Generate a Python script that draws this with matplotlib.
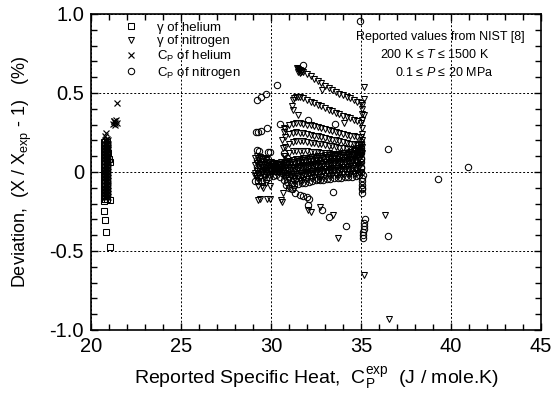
import numpy as np
import matplotlib
matplotlib.use("Agg")
import matplotlib.pyplot as plt
from matplotlib.ticker import MultipleLocator

plt.rcParams['font.family'] = ['Liberation Sans', 'DejaVu Sans']
plt.rcParams['mathtext.fontset'] = 'custom'
plt.rcParams['mathtext.rm'] = 'Liberation Sans'
plt.rcParams['mathtext.it'] = 'Liberation Sans:italic'

# ---------------------------------------------------------------------------
# helium: narrow column near 20.8 J/mole.K
# ---------------------------------------------------------------------------
he_band_y = [-0.17, -0.15, -0.13, -0.11, -0.09, -0.07, -0.05, -0.03, -0.01, 0.01,
             0.03, 0.05, 0.07, 0.09, 0.11, 0.13, 0.15, 0.17, 0.19]
he_sq_cols = [20.72, 20.80, 20.88]
he_x_cols = [20.76, 20.84, 20.93]

# gamma of helium (squares), outliers
gh_x = [20.74, 20.71, 20.78, 20.86, 21.06, 21.06, 21.06, 20.95, 21.0]
gh_y = [-0.181, -0.246, -0.305, -0.379, -0.477, -0.175, 0.063, 0.12, 0.08]

# Cp of helium (crosses), outliers
ch_x = [20.80, 20.90, 20.84, 20.95, 20.85, 21.23, 21.30, 21.35, 21.40, 21.45,
        21.33, 21.28, 21.47]
ch_y = [0.23, 0.21, 0.246, 0.15, 0.20, 0.305, 0.32, 0.31, 0.33, 0.31,
        0.30, 0.325, 0.435]

# ---------------------------------------------------------------------------
# nitrogen: dense band near zero
# ---------------------------------------------------------------------------
band_x = [29.2, 29.4, 29.6, 29.8, 30.0, 30.2, 30.4, 30.6, 30.8, 31.0,
          31.2, 31.4, 31.6, 31.8, 32.0, 32.2, 32.4, 32.6, 32.8, 33.0,
          33.2, 33.4, 33.6, 33.8, 34.0, 34.2, 34.4, 34.6, 34.8, 35.0]
band_t1 = [0.10, 0.095, 0.09, 0.08, 0.065, 0.055, 0.05, 0.06, 0.065, 0.07,
           0.075, 0.08, 0.085, 0.09, 0.09, 0.095, 0.095, 0.10, 0.10, 0.105,
           0.105, 0.11, 0.11, 0.115, 0.12, 0.12, 0.125, 0.13, 0.14, 0.16]
band_t2 = [0.054, 0.05, 0.05, 0.047, 0.04, 0.037, 0.033, 0.034, 0.03, 0.03,
           0.03, 0.034, 0.039, 0.044, 0.045, 0.05, 0.052, 0.057, 0.057, 0.062,
           0.062, 0.067, 0.067, 0.07, 0.075, 0.075, 0.08, 0.084, 0.092, 0.107]
band_t3 = [0.006, 0.005, 0.01, 0.013, 0.015, 0.018, 0.017, 0.006, -0.005, -0.01,
           -0.015, -0.014, -0.009, -0.004, 0.0, 0.005, 0.008, 0.013, 0.013, 0.018,
           0.018, 0.023, 0.023, 0.025, 0.03, 0.03, 0.035, 0.036, 0.043, 0.053]
band_t4 = [-0.04, -0.04, -0.03, -0.02, -0.01, 0.0, 0.0, -0.02, -0.04, -0.05,
           -0.06, -0.06, -0.055, -0.05, -0.045, -0.04, -0.035, -0.03, -0.03, -0.025,
           -0.025, -0.02, -0.02, -0.02, -0.015, -0.015, -0.01, -0.01, -0.005, 0.0]
band_c1 = [0.076, 0.072, 0.07, 0.063, 0.052, 0.046, 0.042, 0.046, 0.047, 0.05,
           0.052, 0.056, 0.061, 0.066, 0.067, 0.072, 0.073, 0.078, 0.078, 0.083,
           0.083, 0.088, 0.088, 0.092, 0.097, 0.097, 0.102, 0.106, 0.115, 0.133]
band_c2 = [0.03, 0.028, 0.03, 0.03, 0.028, 0.028, 0.025, 0.02, 0.013, 0.01,
           0.008, 0.01, 0.015, 0.02, 0.023, 0.028, 0.03, 0.035, 0.035, 0.04,
           0.04, 0.045, 0.045, 0.048, 0.053, 0.053, 0.058, 0.06, 0.068, 0.08]
band_c3 = [-0.016, -0.017, -0.01, -0.003, 0.003, 0.009, 0.008, -0.006, -0.022, -0.03,
           -0.037, -0.036, -0.031, -0.026, -0.022, -0.017, -0.013, -0.008, -0.008, -0.003,
           -0.003, 0.002, 0.002, 0.003, 0.008, 0.008, 0.013, 0.014, 0.02, 0.027]

band_x2 = [29.1, 29.3, 29.5, 29.7, 29.9, 30.1, 30.3, 30.5, 30.7, 30.9,
           31.1, 31.3, 31.5, 31.7, 31.9, 32.1, 32.3, 32.5, 32.7, 32.9,
           33.1, 33.3, 33.5, 33.7, 33.9, 34.1, 34.3, 34.5, 34.7, 34.9]
band_s1 = [0.09, 0.086, 0.082, 0.076, 0.065, 0.055, 0.048, 0.05, 0.055, 0.058,
           0.062, 0.066, 0.07, 0.075, 0.078, 0.081, 0.084, 0.087, 0.089, 0.091,
           0.094, 0.096, 0.099, 0.101, 0.106, 0.108, 0.111, 0.116, 0.123, 0.137]
band_s2 = [0.044, 0.043, 0.042, 0.041, 0.038, 0.034, 0.032, 0.029, 0.026, 0.023,
           0.022, 0.023, 0.027, 0.032, 0.035, 0.039, 0.042, 0.046, 0.048, 0.051,
           0.053, 0.056, 0.058, 0.06, 0.064, 0.066, 0.069, 0.073, 0.078, 0.089]
band_s3 = [-0.005, -0.006, -0.003, 0.003, 0.007, 0.011, 0.013, 0.006, -0.007, -0.017,
           -0.023, -0.026, -0.023, -0.018, -0.013, -0.009, -0.005, 0.0, 0.003, 0.005,
           0.008, 0.010, 0.013, 0.013, 0.016, 0.019, 0.021, 0.024, 0.028, 0.036]
band_s4 = [-0.06, -0.06, -0.055, -0.045, -0.035, -0.025, -0.02, -0.03, -0.05, -0.065,
           -0.075, -0.08, -0.078, -0.072, -0.068, -0.062, -0.058, -0.052, -0.05, -0.048,
           -0.045, -0.042, -0.04, -0.04, -0.038, -0.035, -0.032, -0.03, -0.028, -0.022]

# gamma of nitrogen: descending rows
row_x = [30.8, 31.0, 31.2, 31.4, 31.6, 31.8, 32.0, 32.2, 32.4, 32.6, 32.8,
         33.0, 33.2, 33.4, 33.6, 33.8, 34.0, 34.2, 34.4, 34.6, 34.8, 35.0]
row_c = [0.27, 0.295, 0.305, 0.31, 0.31, 0.305, 0.30, 0.295, 0.29, 0.283, 0.277,
         0.27, 0.265, 0.258, 0.252, 0.245, 0.24, 0.235, 0.23, 0.225, 0.222, 0.22]
row_d = [0.22, 0.24, 0.248, 0.25, 0.248, 0.245, 0.24, 0.235, 0.23, 0.225, 0.22,
         0.215, 0.21, 0.205, 0.20, 0.195, 0.19, 0.185, 0.18, 0.175, 0.172, 0.17]
row_e = [0.16, 0.18, 0.19, 0.195, 0.195, 0.193, 0.19, 0.186, 0.182, 0.178, 0.174,
         0.17, 0.166, 0.162, 0.158, 0.154, 0.15, 0.147, 0.144, 0.141, 0.138, 0.135]
row_f = [0.10, 0.12, 0.13, 0.135, 0.135, 0.133, 0.13, 0.128, 0.126, 0.124, 0.122,
         0.12, 0.118, 0.116, 0.114, 0.112, 0.11, 0.108, 0.106, 0.105, 0.104, 0.104]

row_a_x = [31.45, 31.5, 31.55, 31.6, 31.7, 31.8, 32.0, 32.2, 32.4, 32.6, 32.8,
           33.0, 33.2, 33.4, 33.6, 33.8, 34.0, 34.2, 34.4, 34.6, 34.8, 35.0, 35.05,
           31.5, 31.55, 31.6, 31.65]
row_a_y = [0.655, 0.652, 0.648, 0.645, 0.64, 0.633, 0.62, 0.605, 0.59, 0.575, 0.56,
           0.545, 0.53, 0.518, 0.505, 0.495, 0.485, 0.475, 0.465, 0.455, 0.445, 0.435, 0.425,
           0.63, 0.64, 0.625, 0.635]
row_b_x = [31.2, 31.3, 31.4, 31.5, 31.6, 31.8, 32.0, 32.2, 32.4, 32.6, 32.8,
           33.0, 33.2, 33.4, 33.6, 33.8, 34.0, 34.2, 34.4, 34.6, 34.8, 35.0,
           31.15, 31.25, 31.5]
row_b_y = [0.455, 0.47, 0.475, 0.475, 0.473, 0.465, 0.455, 0.445, 0.435, 0.425, 0.415,
           0.405, 0.395, 0.385, 0.375, 0.366, 0.357, 0.348, 0.34, 0.332, 0.325, 0.31,
           0.42, 0.39, 0.36]

# gamma of nitrogen: other points
gn_x = [35.05, 35.05, 35.05, 35.05, 35.05, 35.05, 35.05, 35.05, 34.95, 34.9,
        35.18, 35.18, 35.18, 34.07, 32.83, 35.18, 36.56, 36.32, 33.71, 33.44,
        32.7, 32.2, 32.05, 30.54, 30.64, 30.6, 29.95, 29.8, 29.4, 29.3, 29.55,
        29.3, 29.5, 29.75, 29.95, 29.1, 31.0, 31.3,
        30.6, 30.7, 30.65, 30.7, 30.75, 30.55]
gn_y = [0.12, 0.16, 0.20, 0.24, 0.28, 0.33, 0.37, 0.40, 0.18, 0.15,
        0.536, 0.46, 0.362, 0.313, 0.52, -0.654, -0.932, -0.273, -0.418, -0.273,
        -0.22, -0.254, -0.24, -0.179, -0.132, -0.19, -0.17, -0.17, -0.17, -0.09, -0.1,
        -0.175, -0.09, -0.07, -0.09, -0.027, -0.1, -0.11,
        0.20, 0.25, 0.15, 0.10, 0.28, 0.06]

# Cp of nitrogen (circles)
cn_x = [34.95, 31.76, 30.34, 29.70, 29.45, 29.2, 29.17, 29.3, 29.45, 29.8,
        29.2, 29.35, 29.95, 29.83, 30.5, 32.04, 33.58, 33.44, 34.17, 32.6,
        31.6, 31.8, 32.0, 32.1, 32.85, 33.2, 36.48, 36.48, 39.3, 40.94,
        31.33, 32.05, 30.85, 31.0, 31.15, 30.7, 30.9,
        35.0, 35.0, 35.0, 35.0, 35.0, 35.0, 35.0, 34.85, 34.7,
        35.1, 35.08, 35.06, 35.05, 35.05, 35.06, 35.07,
        35.2, 35.18, 35.15, 35.15, 35.12, 35.12, 35.12]
cn_y = [0.953, 0.679, 0.551, 0.492, 0.477, 0.456, 0.25, 0.255, 0.26, 0.28,
        0.137, 0.135, 0.124, 0.127, 0.305, 0.33, 0.305, -0.128, -0.343, -0.044,
        -0.143, -0.15, -0.16, -0.17, -0.238, -0.284, 0.147, -0.408, -0.042, 0.032,
        -0.133, -0.21, -0.08, -0.1, -0.11, 0.12, 0.09,
        0.0, 0.03, 0.06, 0.09, 0.12, 0.15, 0.19, 0.17, 0.15,
        -0.02, -0.04, -0.06, -0.08, -0.10, -0.11, -0.13,
        -0.30, -0.32, -0.34, -0.36, -0.38, -0.40, -0.42]

fig = plt.figure(figsize=(5.51, 3.99), dpi=100)
ax = fig.add_axes([0.165, 0.173, 0.817, 0.792])

tri = dict(marker='v', ms=5.0, mfc='none', mec='black', mew=0.75, ls='none')
cir = dict(marker='o', ms=4.6, mfc='none', mec='black', mew=0.75, ls='none')
sq = dict(marker='s', ms=4.0, mfc='none', mec='black', mew=0.75, ls='none')
crs = dict(marker='x', ms=4.8, mec='black', mew=0.85, ls='none')

for yy in [band_t1, band_t2, band_t3, band_t4]:
    ax.plot(band_x, yy, **tri)
for yy in [band_s1, band_s2, band_s3]:
    ax.plot(band_x2, yy, **tri)
for yy in [row_c, row_d, row_e, row_f]:
    ax.plot(row_x, yy, **tri)
ax.plot(row_a_x, row_a_y, **tri)
ax.plot(row_b_x, row_b_y, **tri)
h_gn, = ax.plot(gn_x, gn_y, **tri)

for yy in [band_c1, band_c2, band_c3]:
    ax.plot(band_x, yy, **cir)
ax.plot(band_x2, band_s4, **cir)
h_cn, = ax.plot(cn_x, cn_y, **cir)

for cx in he_sq_cols:
    ax.plot([cx] * len(he_band_y), he_band_y, **sq)
h_gh, = ax.plot(gh_x, gh_y, **sq)
for cx in he_x_cols:
    ax.plot([cx] * len(he_band_y), [v + 0.01 for v in he_band_y], **crs)
h_ch, = ax.plot(ch_x, ch_y, **crs)

ax.set_xlim(20, 45)
ax.set_ylim(-1.0, 1.0)
ax.xaxis.set_major_locator(MultipleLocator(5))
ax.xaxis.set_minor_locator(MultipleLocator(1))
ax.yaxis.set_minor_locator(MultipleLocator(0.1))
ax.set_yticks([-1.0, -0.5, 0, 0.5, 1.0])
ax.set_yticklabels(['-1.0', '-0.5', '0', '0.5', '1.0'])
ax.tick_params(which='both', direction='in', top=True, right=True,
               width=1.0, labelsize=14.5)
ax.tick_params(which='major', length=5, pad=5)
ax.tick_params(which='minor', length=4)
for s in ax.spines.values():
    s.set_linewidth(1.2)
ax.grid(True, which='major', color='black', lw=0.7, ls=(0, (2, 2)))

ax.set_xlabel(r"Reported Specific Heat,  C$_\mathrm{P}^\mathrm{exp}$  (J / mole.K)",
              fontsize=14, labelpad=6)
ax.set_ylabel(r"Deviation,  (X / X$_\mathrm{exp}$ - 1)   (%)", fontsize=13,
              labelpad=11)

ax.legend([h_gh, h_gn, h_ch, h_cn],
          ["\u03b3 of helium", "\u03b3 of nitrogen",
           r"C$_\mathrm{P}$ of helium", r"C$_\mathrm{P}$ of nitrogen"],
          loc='upper left', bbox_to_anchor=(0.074, 0.976), frameon=False,
          fontsize=9.5, handlelength=1.0, handletextpad=1.5, labelspacing=0.1,
          borderpad=0, borderaxespad=0)

ax.text(39.4, 0.856, "Reported values from NIST [8]", ha='center', va='center',
        fontsize=9)
ax.text(39.1, 0.744, "200 K \u2264 $T$ \u2264 1500 K", ha='center', va='center',
        fontsize=9)
ax.text(39.6, 0.631, "0.1 \u2264 $P$ \u2264 20 MPa", ha='center', va='center',
        fontsize=9)

fig.savefig("out.png", dpi=100)
